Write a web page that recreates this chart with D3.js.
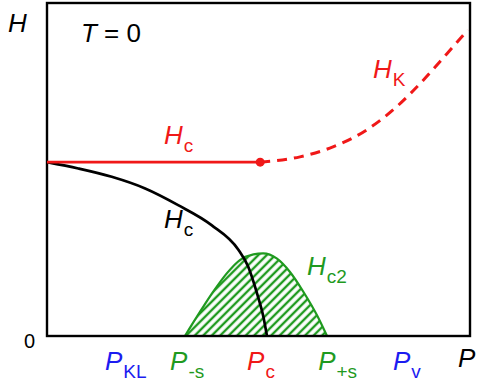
<!DOCTYPE html>
<html>
<head>
<meta charset="utf-8">
<script src="https://cdnjs.cloudflare.com/ajax/libs/d3/7.8.5/d3.min.js"></script>
<style>
  body { margin: 0; background: #fff; }
  svg { display: block; font-family: "Liberation Sans", Arial, sans-serif; }
</style>
</head>
<body>
<div id="chart"></div>
<script>
// critical field of the normal/SC state (flat), P < Pc
var hcRed = [[0, 5.22], [5.04, 5.22]];
// H_K continuation above Pc (dashed)
var hkCurve = [[5.04, 5.22], [5.98, 5.38], [6.76, 5.68], [7.56, 6.19], [8.27, 6.89], [8.85, 7.62], [9.45, 8.47], [9.95, 9.19]];
// black Hc line
var hcBlack = [[0, 5.22], [0.74, 5.03], [1.53, 4.78], [2.32, 4.43], [3.1, 3.93], [3.89, 3.33], [4.52, 2.6], [4.75, 2.1], [4.96, 1.3], [5.12, 0.55], [5.2, 0]];
// Hc2 dome
var hc2Dome = [[3.26, 0], [3.62, 0.73], [3.93, 1.33], [4.25, 1.88], [4.56, 2.28], [4.88, 2.45], [5.11, 2.48], [5.43, 2.33], [5.74, 1.93], [6.06, 1.33], [6.38, 0.63], [6.62, 0]];
// labels along P axis
var pNames = ["P", "P", "P", "P", "P"];
var pSubs = ["KL", "-s", "c", "+s", "v"];
var pAt = [1.37, 2.91, 4.73, 6.41, 8.18];
var pColors = ["#1c1cf0", "#1f9a1f", "#f01818", "#1f9a1f", "#1c1cf0"];

var width = 479, height = 384;
var margin = { left: 47, right: 9, top: 3, bottom: 48 };

var x = d3.scaleLinear().domain([0, 10]).range([margin.left, width - margin.right]);
var y = d3.scaleLinear().domain([0, 10]).range([height - margin.bottom, margin.top]);

var red = "#f01818", green = "#1f9a1f";

var svg = d3.select("#chart").append("svg")
  .attr("width", width)
  .attr("height", height);

var defs = svg.append("defs");
var pat = defs.append("pattern")
  .attr("id", "hatch")
  .attr("patternUnits", "userSpaceOnUse")
  .attr("width", 6)
  .attr("height", 6)
  .attr("patternTransform", "rotate(-45)");
pat.append("rect").attr("width", 6).attr("height", 6).attr("fill", "#fff");
pat.append("line")
  .attr("x1", 0).attr("x2", 6).attr("y1", 3).attr("y2", 3)
  .attr("stroke", green).attr("stroke-width", 2.4);

var line = d3.line()
  .x(function (d) { return x(d[0]); })
  .y(function (d) { return y(d[1]); })
  .curve(d3.curveMonotoneX);

// dome first (below frame)
svg.append("path")
  .attr("d", line(hc2Dome))
  .attr("fill", "url(#hatch)")
  .attr("stroke", green)
  .attr("stroke-width", 2.2);

// frame
svg.append("rect")
  .attr("x", x(0)).attr("y", y(10))
  .attr("width", x(10) - x(0)).attr("height", y(0) - y(10))
  .attr("fill", "none").attr("stroke", "#000").attr("stroke-width", 2.4);

svg.append("path")
  .attr("d", line(hcBlack))
  .attr("fill", "none").attr("stroke", "#000").attr("stroke-width", 2.7);

svg.append("path")
  .attr("d", line(hcRed))
  .attr("fill", "none").attr("stroke", red).attr("stroke-width", 2.6);

svg.append("path")
  .attr("d", line(hkCurve))
  .attr("fill", "none").attr("stroke", red).attr("stroke-width", 3)
  .attr("stroke-dasharray", "10,7");

svg.append("circle")
  .attr("cx", x(hcRed[1][0])).attr("cy", y(hcRed[1][1]))
  .attr("r", 4.5).attr("fill", red);

// text helper: main + subscript
function label(px, py, main, sub, color, italic) {
  var t = svg.append("text")
    .attr("x", px).attr("y", py)
    .attr("fill", color)
    .style("font-size", "26px");
  t.append("tspan").text(main).style("font-style", italic === false ? "normal" : "italic");
  if (sub) {
    t.append("tspan").text(sub)
      .attr("dy", 8).attr("dx", 1)
      .style("font-size", "19px");
  }
  return t;
}

label(8, 32, "H", null, "#000");
var tz = svg.append("text").attr("x", 81).attr("y", 42).style("font-size", "26px");
tz.append("tspan").text("T").style("font-style", "italic");
tz.append("tspan").text(" = 0");

svg.append("text").attr("x", 24).attr("y", 348).style("font-size", "20px").text("0");
label(458, 367, "P", null, "#000");

pNames.forEach(function (n, i) {
  label(x(pAt[i]), 370, n, pSubs[i], pColors[i]);
});

label(373, 78, "H", "K", red);
label(164, 144, "H", "c", red);
label(164, 228, "H", "c", "#000");
label(307, 275, "H", "c2", green);
</script>
</body>
</html>
